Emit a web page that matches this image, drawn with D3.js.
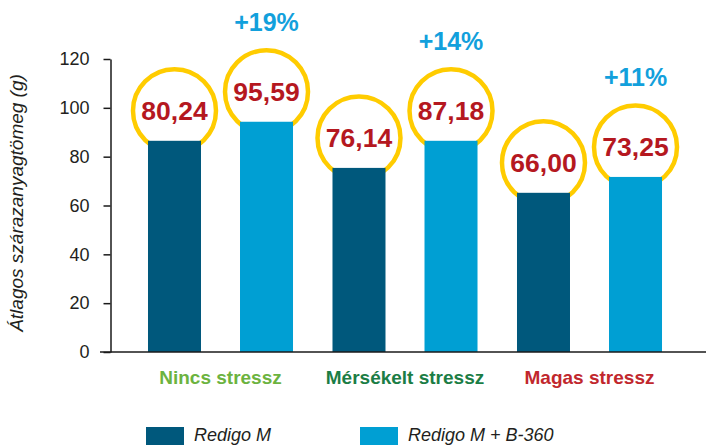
<!DOCTYPE html>
<html>
<head>
<meta charset="utf-8">
<script src="https://cdn.jsdelivr.net/npm/d3@7"></script>
<style>
  body { margin: 0; background: #fff; }
  svg { display: block; font-family: "Liberation Sans", Arial, sans-serif; }
</style>
</head>
<body>
<div class="chart_box"></div>
<script>
// Chart data
const categories = ["Nincs stressz", "Mérsékelt stressz", "Magas stressz"];
const categoryColors = ["#6cb33f", "#1b7d45", "#c1272d"];
const seriesNames = ["Redigo M", "Redigo M + B-360"];
const seriesColors = ["#00587c", "#009fd3"];
// bar heights as drawn
const redigoM = [86.5, 75.4, 65.2];
const redigoB360 = [94.3, 86.5, 71.7];
// labels printed inside circles
const redigoMLabels = ["80,24", "76,14", "66,00"];
const redigoB360Labels = ["95,59", "87,18", "73,25"];
const gainLabels = ["+19%", "+14%", "+11%"];
const yTicks = [0, 20, 40, 60, 80, 100, 120];

const width = 707, height = 445;

const svg = d3
  .select(".chart_box")
  .append("svg")
  .attr("width", width)
  .attr("height", height);

// Scales
const x0 = d3
  .scaleBand()
  .domain(categories)
  .range([128.25, 681.75])
  .paddingInner(0.214)
  .paddingOuter(0.107);

const x1 = d3
  .scaleBand()
  .domain(seriesNames)
  .range([0, x0.bandwidth()])
  .paddingInner(0.424)
  .paddingOuter(0);

const yScale = d3.scaleLinear().domain([0, 120]).range([352, 59]);

// Y axis
const yAxis = svg
  .append("g")
  .attr("transform", "translate(110.5, 0)")
  .call(d3.axisLeft(yScale).tickValues(yTicks).tickSize(7).tickPadding(14).tickSizeOuter(0));
yAxis.select(".domain").attr("stroke", "#1a1a1a").attr("stroke-width", 1.5);
yAxis.selectAll(".tick line").attr("stroke", "#1a1a1a").attr("stroke-width", 1.5);
yAxis
  .selectAll(".tick text")
  .attr("font-size", 18)
  .attr("font-family", "Liberation Sans, Arial, sans-serif")
  .attr("fill", "#231f20");

// Y axis title
svg
  .append("text")
  .attr("transform", "translate(23, 203) rotate(-90)")
  .attr("text-anchor", "middle")
  .attr("font-size", 19)
  .attr("font-style", "italic")
  .attr("fill", "#231f20")
  .text("Átlagos szárazanyagtömeg (g)");

// Build bar rows from the arrays
const bars = [];
categories.forEach((c, i) => {
  bars.push({ cat: c, series: seriesNames[0], value: redigoM[i], label: redigoMLabels[i], color: seriesColors[0] });
  bars.push({ cat: c, series: seriesNames[1], value: redigoB360[i], label: redigoB360Labels[i], color: seriesColors[1], gain: gainLabels[i] });
});

const cx = (d) => x0(d.cat) + x1(d.series) + x1.bandwidth() / 2;

// Yellow circles behind the bars
svg
  .selectAll(".bubble")
  .data(bars)
  .enter()
  .append("circle")
  .attr("class", "bubble")
  .attr("cx", cx)
  .attr("cy", (d) => yScale(d.value) - 30)
  .attr("r", 41.5)
  .attr("fill", "#fff")
  .attr("stroke", "#ffcc00")
  .attr("stroke-width", 4.5);

// Bars
svg
  .selectAll(".bar")
  .data(bars)
  .enter()
  .append("rect")
  .attr("class", "bar")
  .attr("x", (d) => x0(d.cat) + x1(d.series))
  .attr("y", (d) => yScale(d.value))
  .attr("width", x1.bandwidth())
  .attr("height", (d) => yScale(0) - yScale(d.value))
  .attr("fill", (d) => d.color);

// X baseline
svg
  .append("line")
  .attr("x1", 100)
  .attr("x2", 706)
  .attr("y1", yScale(0))
  .attr("y2", yScale(0))
  .attr("stroke", "#1a1a1a")
  .attr("stroke-width", 1.5);

// Value labels inside circles
svg
  .selectAll(".value")
  .data(bars)
  .enter()
  .append("text")
  .attr("class", "value")
  .attr("x", cx)
  .attr("y", (d) => yScale(d.value) - 30)
  .attr("dy", "0.36em")
  .attr("text-anchor", "middle")
  .attr("font-size", 26.5)
  .attr("font-weight", "bold")
  .attr("fill", "#b5181f")
  .text((d) => d.label);

// Gain labels above the second bar in each group
svg
  .selectAll(".gain")
  .data(bars.filter((d) => d.gain))
  .enter()
  .append("text")
  .attr("class", "gain")
  .attr("x", cx)
  .attr("y", (d) => yScale(d.value) - 91)
  .attr("text-anchor", "middle")
  .attr("font-size", 25)
  .attr("font-weight", "bold")
  .attr("fill", "#12a0dc")
  .text((d) => d.gain);

// Category labels
svg
  .selectAll(".cat")
  .data(categories)
  .enter()
  .append("text")
  .attr("class", "cat")
  .attr("x", (d) => x0(d) + x0.bandwidth() / 2)
  .attr("y", 384)
  .attr("text-anchor", "middle")
  .attr("font-size", 19)
  .attr("font-weight", "bold")
  .attr("fill", (d, i) => categoryColors[i])
  .text((d) => d);

// Legend
const legendX = [146, 360];
const legend = svg
  .selectAll(".legend")
  .data(seriesNames)
  .enter()
  .append("g")
  .attr("class", "legend")
  .attr("transform", (d, i) => `translate(${legendX[i]}, 427)`);

legend
  .append("rect")
  .attr("width", 38)
  .attr("height", 18)
  .attr("fill", (d, i) => seriesColors[i]);

legend
  .append("text")
  .attr("x", 48)
  .attr("y", 13.5)
  .attr("font-size", 18)
  .attr("font-style", "italic")
  .attr("fill", "#231f20")
  .text((d) => d);
</script>
</body>
</html>
